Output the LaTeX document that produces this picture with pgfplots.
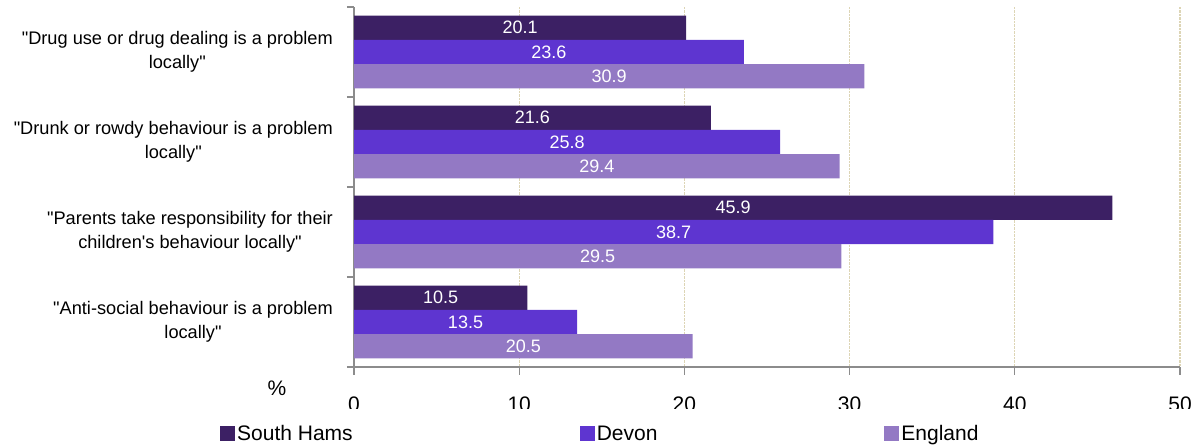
\documentclass[border=0pt]{standalone}
\usepackage{pgfplots}
\pgfplotsset{compat=1.18}
\usepackage{pgfplotstable}
\usepackage{fontspec}
\setmainfont{Liberation Sans}[Ligatures=TeXOff]
\definecolor{shc}{HTML}{3C2064}
\definecolor{dvc}{HTML}{5E35D0}
\definecolor{enc}{HTML}{9379C4}
\definecolor{gridc}{HTML}{DDD5B5}
\definecolor{axc}{HTML}{8C8C8C}

\pgfplotstableread{
y sh dv en
3 20.1 23.6 30.9
2 21.6 25.8 29.4
1 45.9 38.7 29.5
0 10.5 13.5 20.5
}\data

\begin{document}
\begin{tikzpicture}
\useasboundingbox (0,0) rectangle (1196pt,446pt);
\begin{axis}[
 at={(354pt,79pt)}, anchor=south west,
 scale only axis, width=826pt, height=360pt,
 xmin=0, xmax=50, ymin=-0.5, ymax=3.5,
 xbar, bar width=0.27,
 /pgf/number format/assume math mode=true,
 axis x line*=bottom, axis y line*=left,
 axis line style={draw=axc, line width=1.3pt, -},
 tick style={draw=axc, line width=1.3pt},
 tick align=outside,
 major tick length=8pt, minor tick length=7pt,
 xtick={0,10,...,50},
 ytick={0,1,2,3},
 yticklabels={{"Anti-social behaviour is a problem\\locally"},
   {"Parents take responsibility for their\\children's behaviour locally"},
   {"Drunk or rowdy behaviour is a problem\\locally"},
   {"Drug use or drug dealing is a problem\\locally"}},
 minor ytick={-0.5,0.5,1.5,2.5,3.5},
 major y tick style={draw=none},
 xmajorgrids, major x grid style={draw=gridc, densely dotted, line width=1.2pt},
 yticklabel style={align=center, font=\fontsize{18.2}{24}\selectfont, inner sep=0pt, anchor=east, xshift=-13pt},
 xticklabel style={font=\fontsize{21}{24}\selectfont, inner sep=0pt, anchor=north, yshift=-22pt},
 xlabel={\%},
 xlabel style={font=\fontsize{21}{24}\selectfont, at={(axis description cs:-0.0932,-0.0583)}, anchor=center},
 point meta=x,
 visualization depends on={rawx \as \rawv},
 nodes near coords={\pgfmathprintnumber[fixed,fixed zerofill,precision=1]{\pgfplotspointmeta}},
 every node near coord/.append style={font=\fontsize{18}{20}\selectfont, color=white, anchor=center, xshift={-\rawv*8.26pt}},
 legend columns=3,
 legend style={draw=none, fill=none, at={(axis description cs:-0.1622,-0.186)}, anchor=west,
   font=\fontsize{21}{24}\selectfont, inner sep=0pt, nodes={inner sep=2pt},
   /tikz/every even column/.append style={column sep=225pt}},
 legend image code/.code={\fill[#1] (0pt,-7.5pt) rectangle (15pt,7.5pt);},
]
\addplot[fill=shc, draw=none, bar shift=0.27] table[x=sh, y=y]{\data};
\addplot[fill=dvc, draw=none, bar shift=0] table[x=dv, y=y]{\data};
\addplot[fill=enc, draw=none, bar shift=-0.27] table[x=en, y=y]{\data};
\legend{South Hams, Devon, England}
\end{axis}
\fill[white] (340pt,24pt) rectangle (1196pt,37pt);
\end{tikzpicture}
\end{document}
